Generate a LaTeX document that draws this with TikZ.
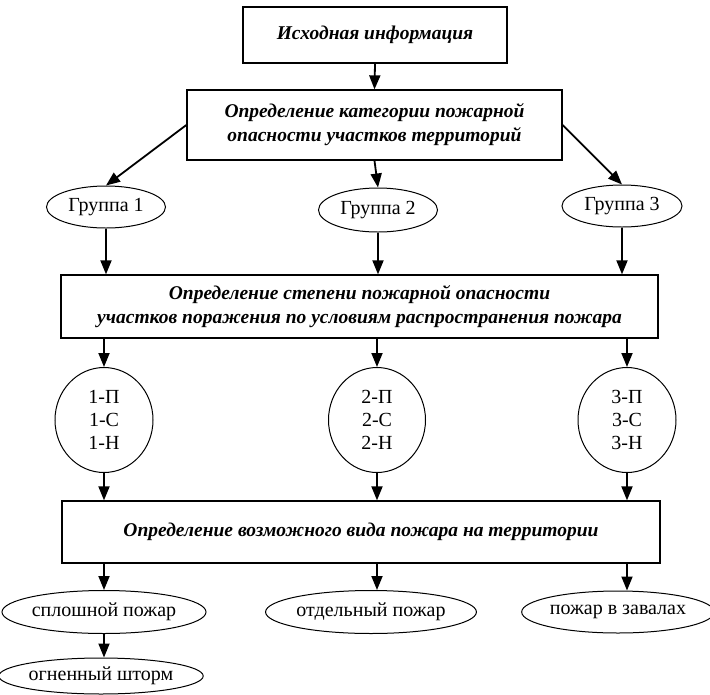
\documentclass[tikz,border=0pt]{standalone}
\usepackage{fontspec}
\setmainfont{Liberation Serif}
\usepackage{tikz}
\usetikzlibrary{positioning, calc, arrows.meta, shapes.geometric}

\begin{document}
\begin{tikzpicture}[x=1pt, y=-1pt,
      box/.style={draw, line width=1.3pt, inner sep=0pt, align=center,
        font=\fontsize{19.5}{24}\selectfont\bfseries\itshape},
      oval/.style={draw, ellipse, line width=1pt, inner sep=0pt, align=center,
        font=\fontsize{20}{23}\selectfont},
      arr/.style={-{Triangle[length=14pt,width=11pt]}, line width=1.8pt}]
      \useasboundingbox (0,0) rectangle (710,694);

      \node[box, minimum width=264pt, minimum height=56pt] (info) at (375,35) {Исходная информация};
      \node[box, minimum width=375pt, minimum height=70pt] (cat) at (374.5,125) {Определение категории пожарной\\опасности участков территорий};

      \node[oval, minimum width=119pt, minimum height=42pt] (G1) at (106,207) {Группа 1};
      \node[oval, minimum width=119pt, minimum height=44pt] (G2) at (378,210) {Группа 2};
      \node[oval, minimum width=120pt, minimum height=42pt] (G3) at (622,206) {Группа 3};

      \node[box, minimum width=597pt, minimum height=63pt] (deg) at (359.5,306.5) {Определение степени пожарной опасности\\участков поражения по условиям распространения пожара};

      \node[oval, minimum width=98pt, minimum height=105pt] (S1) at (104,420) {1-П\\1-С\\1-Н};
      \node[oval, minimum width=97pt, minimum height=105pt] (S2) at (377,420) {2-П\\2-С\\2-Н};
      \node[oval, minimum width=98pt, minimum height=105pt] (S3) at (627,420) {3-П\\3-С\\3-Н};

      \node[box, minimum width=598pt, minimum height=62pt] (kind) at (361,532) {Определение возможного вида пожара на территории};

      \node[oval, minimum width=181pt, minimum height=43pt] (F1) at (104,612) {сплошной пожар};
      \node[oval, minimum width=174pt, minimum height=43pt] (F2) at (371,612) {отдельный пожар};
      \node[oval, minimum width=180pt, minimum height=42pt] (F3) at (618,612) {пожар в завалах};
      \node[oval, minimum width=188pt, minimum height=36pt] (F4) at (101,676) {огненный шторм};

      \draw[arr] (info.south) -- (cat.north);
      \draw[arr] (cat.west) -- (G1.north);
      \draw[arr] (cat.south) -- (G2.north);
      \draw[arr] (cat.east) -- (G3.north);

      \draw[arr] (G1.south) -- (G1.south |- deg.north);
      \draw[arr] (G2.south) -- (G2.south |- deg.north);
      \draw[arr] (G3.south) -- (G3.south |- deg.north);

      \draw[arr] (deg.south -| S1.north) -- (S1.north);
      \draw[arr] (deg.south -| S2.north) -- (S2.north);
      \draw[arr] (deg.south -| S3.north) -- (S3.north);

      \draw[arr] (S1.south) -- (S1.south |- kind.north);
      \draw[arr] (S2.south) -- (S2.south |- kind.north);
      \draw[arr] (S3.south) -- (S3.south |- kind.north);

      \draw[arr] (kind.south -| S1.south) -- (S1.south |- F1.north);
      \draw[arr] (kind.south -| S2.south) -- (S2.south |- F2.north);
      \draw[arr] (kind.south -| S3.south) -- (S3.south |- F3.north);

      \draw[arr] (F1.south) -- (F1.south |- F4.north);
    \end{tikzpicture}
\end{document}
